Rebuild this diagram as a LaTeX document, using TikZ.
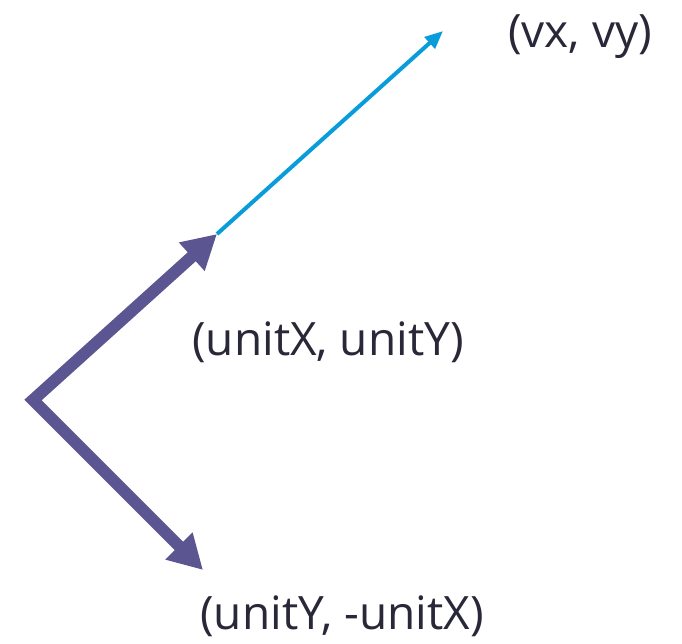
\documentclass[tikz,border=0pt]{standalone}
\usepackage{fontspec}
\setmainfont{Open Sans}
\usepackage{tikz}
\usetikzlibrary{arrows.meta}
\definecolor{VECpurple}{RGB}{91,85,145}
\definecolor{VECblue}{RGB}{8,157,218}
\definecolor{VECtext}{RGB}{40,40,56}

\begin{document}
\begin{tikzpicture}[x=1pt, y=-1pt, line join=miter,
    basis/.style={VECpurple, line width=12pt, {Triangle[length=34pt,width=36pt]}-{Triangle[length=34pt,width=36pt]}},
    velocity/.style={VECblue, line width=4pt, -{Triangle[length=18pt,width=15pt]}},
    lbl/.style={VECtext, font=\fontsize{46}{52}\selectfont, inner sep=0pt}]
    \useasboundingbox (0,0) rectangle (682,643);
    % Points
    \coordinate (origin) at (33,400);
    \coordinate (unitEnd) at (217,234);
    \coordinate (perpEnd) at (203,570);
    \coordinate (velEnd) at (443,31);
    % Velocity
    \draw[velocity] (unitEnd) -- (velEnd);
    % Basis vectors
    \draw[basis] (unitEnd) -- (origin) -- (perpEnd);
    % Labels
    \node[lbl] (velLabel) at (580,37) {(vx, vy)};
    \node[lbl] (unitLabel) at (328,342) {(unitX, unitY)};
    \node[lbl] (perpLabel) at (342,616) {(unitY, -unitX)};
  \end{tikzpicture}
\end{document}
